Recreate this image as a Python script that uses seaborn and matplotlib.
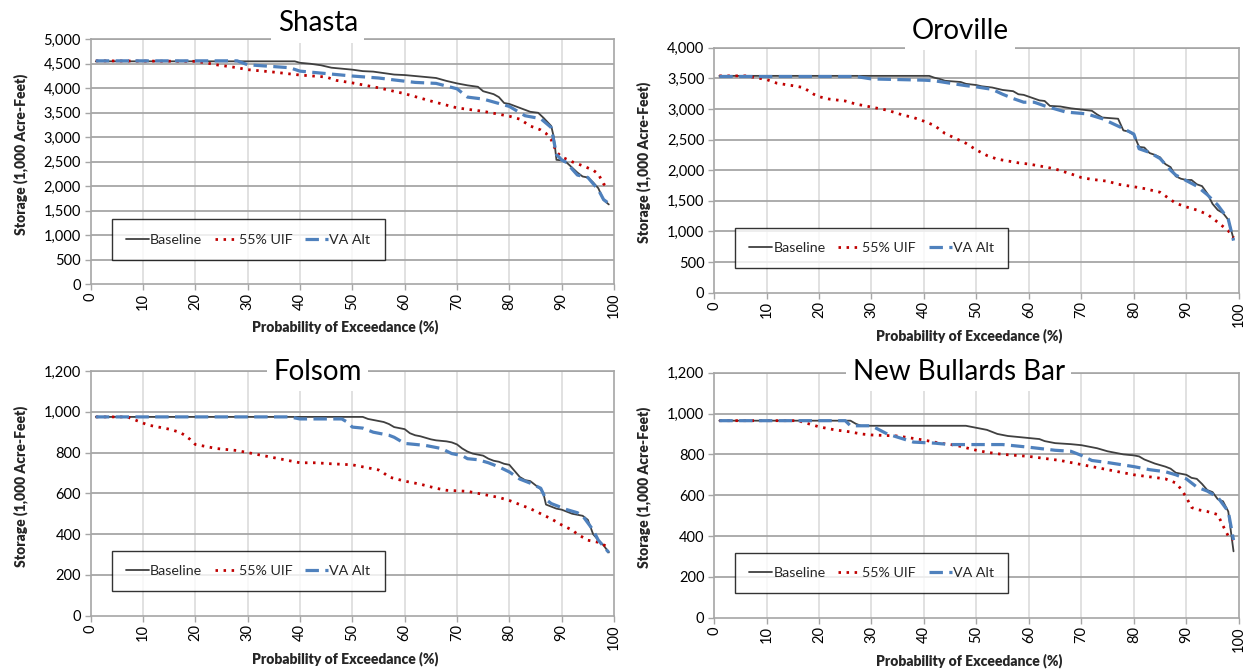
import matplotlib
matplotlib.use("Agg")
import matplotlib.pyplot as plt
from matplotlib.ticker import FuncFormatter, MultipleLocator
import seaborn as sns
import pandas as pd

# ---------------- data ----------------
series_names = ["Baseline", "55% UIF", "VA Alt"]
panel_titles = ["Shasta", "Oroville", "Folsom", "New Bullards Bar"]
x_label = "Probability of Exceedance (%)"
y_label = "Storage (1,000 Acre-Feet)"

# Shasta
shasta_base_x = [1, 39, 40, 42, 44, 46, 48, 50, 52, 54, 56, 58, 60, 62, 64, 66, 68, 70, 72, 74, 75, 77, 78, 79, 80, 82, 84, 85.5, 86.5, 88, 88.5, 89, 90, 91, 92, 93, 94, 95, 96, 97, 98, 99]
shasta_base_y = [4550, 4550, 4520, 4500, 4470, 4420, 4400, 4380, 4350, 4340, 4310, 4280, 4270, 4250, 4230, 4210, 4150, 4100, 4060, 4030, 3940, 3880, 3820, 3700, 3680, 3600, 3520, 3500, 3400, 3230, 3000, 2540, 2530, 2480, 2380, 2280, 2200, 2180, 2080, 1960, 1720, 1630]
shasta_uif_x = [1, 20, 22, 24, 26, 28, 30, 35, 40, 45, 47, 50, 55, 60, 65, 70, 75, 80, 82, 84, 86, 87, 88, 89, 90, 92, 94, 96, 97, 98, 99]
shasta_uif_y = [4560, 4550, 4520, 4480, 4450, 4420, 4380, 4330, 4270, 4230, 4160, 4110, 4010, 3890, 3740, 3600, 3530, 3430, 3370, 3230, 3150, 3080, 2950, 2700, 2600, 2500, 2420, 2330, 2250, 2050, 1950]
shasta_va_x = [1, 28, 30, 34, 38, 40, 45, 50, 55, 58, 62, 66, 70, 72, 75, 80, 83, 86, 88, 89, 90, 91, 92, 93, 95, 97, 98, 99]
shasta_va_y = [4560, 4560, 4480, 4450, 4420, 4350, 4300, 4250, 4210, 4170, 4120, 4100, 3990, 3820, 3780, 3630, 3440, 3380, 3200, 2650, 2540, 2480, 2350, 2230, 2180, 1930, 1730, 1650]

# Oroville
oroville_base_x = [1, 41, 42, 43, 44, 47, 48, 50, 51, 53, 55, 57, 58, 59, 60, 62, 63, 64, 66, 68, 70, 72, 73, 74, 77, 78, 79, 80, 81, 82, 83, 84, 85, 86, 87, 88, 89, 90, 91, 92, 93, 94, 95, 96, 97, 98, 99]
oroville_base_y = [3540, 3540, 3510, 3490, 3460, 3440, 3410, 3390, 3370, 3350, 3310, 3290, 3240, 3230, 3200, 3140, 3130, 3050, 3040, 3010, 2990, 2970, 2910, 2860, 2840, 2650, 2630, 2580, 2380, 2370, 2280, 2250, 2210, 2100, 2050, 1900, 1860, 1840, 1840, 1770, 1740, 1620, 1450, 1350, 1300, 1190, 880]
oroville_uif_x = [1, 6, 8, 10, 12, 15, 17, 19, 20, 22, 25, 27, 30, 33, 36, 38, 40, 42, 44, 46, 48, 50, 52, 54, 56, 58, 60, 62, 65, 68, 70, 72, 75, 77, 80, 82, 85, 87, 88, 90, 92, 94, 96, 98, 99]
oroville_uif_y = [3540, 3540, 3510, 3480, 3420, 3380, 3350, 3240, 3200, 3160, 3130, 3080, 3030, 2980, 2900, 2860, 2800, 2730, 2600, 2520, 2440, 2330, 2240, 2180, 2150, 2120, 2100, 2070, 2020, 1940, 1880, 1850, 1820, 1770, 1730, 1700, 1640, 1520, 1460, 1400, 1350, 1280, 1150, 1010, 900]
oroville_va_x = [1, 27, 30, 35, 40, 42, 45, 48, 50, 53, 55, 57, 59, 61, 63, 65, 67, 71, 74, 76, 78, 80, 81, 83, 85, 87, 88, 90, 92, 94, 96, 98, 99]
oroville_va_y = [3530, 3530, 3490, 3480, 3470, 3460, 3420, 3380, 3360, 3320, 3240, 3170, 3110, 3110, 3050, 3000, 2950, 2920, 2840, 2760, 2680, 2590, 2350, 2290, 2190, 2000, 1920, 1830, 1740, 1600, 1430, 1200, 850]

# Folsom
folsom_base_x = [1, 52, 53, 54, 55, 56, 57, 58, 60, 61, 62, 63, 65, 66, 68, 69, 70, 71, 72, 73, 74, 75, 76, 77, 78, 79, 80, 81, 82, 83, 84, 85, 86, 86.5, 87, 88, 89, 90, 91, 92, 93, 94, 95, 96, 97, 98, 99]
folsom_base_y = [975, 975, 965, 960, 955, 950, 940, 925, 915, 895, 885, 880, 865, 860, 855, 850, 840, 820, 805, 795, 790, 785, 770, 760, 755, 745, 740, 710, 680, 665, 660, 640, 620, 600, 545, 535, 525, 520, 510, 500, 495, 490, 470, 400, 370, 345, 310]
folsom_uif_x = [1, 7, 9, 11, 13, 15, 17, 18, 19, 20, 22, 24, 26, 28, 30, 32, 35, 38, 40, 43, 46, 50, 53, 55, 56, 57, 60, 63, 66, 68, 72, 75, 78, 80, 82, 84, 86, 88, 90, 92, 93, 94, 95, 97, 99]
folsom_uif_y = [975, 975, 955, 935, 925, 915, 900, 885, 865, 840, 830, 820, 815, 810, 800, 790, 775, 760, 750, 750, 745, 740, 725, 715, 700, 680, 660, 645, 625, 615, 610, 595, 580, 565, 545, 525, 500, 475, 445, 420, 400, 385, 370, 360, 335]
folsom_va_x = [1, 38, 40, 48, 49, 50, 52, 54, 57, 58, 60, 62, 64, 67, 69, 71, 72, 74, 76, 78, 80, 82, 84, 86, 87, 88, 90, 91, 93, 94, 96, 97, 98, 99]
folsom_va_y = [975, 975, 965, 965, 950, 925, 920, 900, 885, 875, 845, 840, 835, 820, 795, 785, 770, 765, 750, 730, 705, 670, 650, 625, 570, 550, 530, 520, 505, 490, 420, 370, 340, 310]

# New Bullards Bar
nbb_base_x = [1, 26, 27, 28, 48, 49, 50, 51, 52, 53, 54, 56, 58, 60, 62, 63, 64, 65, 68, 70, 72, 73, 75, 77, 78, 80, 81, 82, 83, 84, 86, 87, 88, 89, 90, 91, 92, 93, 94, 95, 96, 97, 98, 99]
nbb_base_y = [965, 965, 950, 940, 940, 935, 930, 925, 920, 910, 900, 890, 885, 880, 875, 865, 860, 855, 850, 845, 835, 830, 815, 805, 800, 795, 790, 775, 765, 755, 740, 730, 710, 705, 700, 685, 680, 655, 625, 615, 580, 570, 520, 325]
nbb_uif_x = [1, 16, 18, 20, 23, 26, 28, 30, 35, 40, 43, 46, 50, 52, 55, 60, 63, 66, 68, 70, 73, 76, 80, 83, 86, 88, 89, 90, 91, 92, 94, 96, 97, 98, 99]
nbb_uif_y = [965, 965, 950, 935, 920, 910, 900, 895, 890, 870, 855, 845, 820, 810, 800, 790, 780, 770, 760, 750, 735, 720, 700, 690, 680, 660, 630, 590, 540, 530, 520, 505, 450, 400, 380]
nbb_va_x = [1, 25, 26, 30, 33, 38, 42, 45, 50, 55, 60, 65, 68, 70, 72, 75, 80, 83, 86, 88, 90, 92, 94, 96, 98, 99]
nbb_va_y = [965, 965, 940, 940, 900, 860, 855, 848, 848, 848, 835, 820, 815, 795, 770, 760, 740, 725, 715, 700, 680, 640, 620, 590, 520, 380]

y_max = [5000, 4000, 1200, 1200]
y_step = [500, 500, 200, 200]

panels = [
    [(shasta_base_x, shasta_base_y), (shasta_uif_x, shasta_uif_y), (shasta_va_x, shasta_va_y)],
    [(oroville_base_x, oroville_base_y), (oroville_uif_x, oroville_uif_y), (oroville_va_x, oroville_va_y)],
    [(folsom_base_x, folsom_base_y), (folsom_uif_x, folsom_uif_y), (folsom_va_x, folsom_va_y)],
    [(nbb_base_x, nbb_base_y), (nbb_uif_x, nbb_uif_y), (nbb_va_x, nbb_va_y)],
]

# ---------------- style ----------------
sns.set_style("white")
plt.rcParams["font.family"] = ["Lato", "DejaVu Sans"]

colors = ["#404040", "#c00000", "#4f81bd"]
linestyles = ["-", (0, (0.9, 2.0)), (0, (4.2, 2.0))]
linewidths = [1.3, 2.0, 2.3]

fig = plt.figure(figsize=(12.44, 6.69), dpi=100)
axes_pos = [
    [0.0728, 0.5750, 0.4208, 0.3663],
    [0.5740, 0.5625, 0.4218, 0.3662],
    [0.0728, 0.0797, 0.4208, 0.3657],
    [0.5740, 0.0767, 0.4218, 0.3662],
]
title_pos = [(0.434, 1.065), (0.469, 1.069), (0.434, 0.997), (0.466, 1.004)]

grid_h = "#a6a6a6"
grid_v = "#d9d9d9"

for i, pos in enumerate(axes_pos):
    ax = fig.add_axes(pos)
    for j, (xs, ys) in enumerate(panels[i]):
        df = pd.DataFrame({"x": xs, "y": ys})
        sns.lineplot(data=df, x="x", y="y", ax=ax, color=colors[j],
                     linestyle=linestyles[j], linewidth=linewidths[j],
                     label=series_names[j], zorder=3)
    ax.set_xlim(0, 100)
    ax.set_ylim(0, y_max[i])
    ax.xaxis.set_major_locator(MultipleLocator(10))
    ax.yaxis.set_major_locator(MultipleLocator(y_step[i]))
    ax.yaxis.set_major_formatter(FuncFormatter(lambda v, p: f"{v:,.0f}"))
    ax.grid(False)
    for yv in range(y_step[i], y_max[i] + 1, y_step[i]):
        ax.axhline(yv, color=grid_h, lw=1.3, zorder=1)
    for xv in range(10, 100, 10):
        ax.axvline(xv, color=grid_v, lw=1.1, zorder=0.5)
    for s in ax.spines.values():
        s.set_color(grid_h)
        s.set_linewidth(1.2)
    ax.tick_params(axis="both", which="major", direction="out", length=4,
                   width=1, color=grid_h, labelsize=10.5, labelcolor="#000000",
                   left=True, bottom=True)
    ax.tick_params(axis="x", labelrotation=90, pad=2)
    ax.tick_params(axis="y", pad=3)
    ax.set_xlabel(x_label, fontsize=10, fontweight="heavy")
    ax.set_ylabel(y_label, fontsize=10, fontweight="heavy")
    ax.xaxis.set_label_coords(0.487, -0.175)
    ax.yaxis.set_label_coords(-0.134, 0.53)
    ax.xaxis.label.set_va("center")
    ax.yaxis.label.set_va("center")
    leg = ax.legend(loc="lower left", bbox_to_anchor=(0.04, 0.10), ncol=3,
                    frameon=True, fancybox=False, fontsize=10.3,
                    handlelength=1.6, handletextpad=0.08, columnspacing=0.9,
                    borderpad=1.0, borderaxespad=0)
    leg.get_frame().set_edgecolor("#000000")
    leg.get_frame().set_linewidth(1.0)
    leg.set_zorder(10)
    tx, ty = title_pos[i]
    ax.text(tx, ty, panel_titles[i], transform=ax.transAxes, ha="center",
            va="center", fontsize=20, color="#000000", zorder=20, clip_on=False,
            bbox=dict(facecolor="white", edgecolor="none", pad=4.5))

fig.savefig("out.png", dpi=100)
